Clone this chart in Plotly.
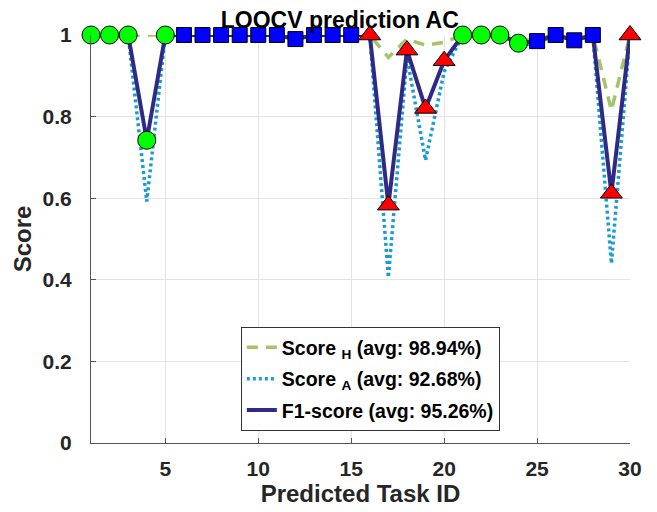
import plotly.graph_objects as go

task_ids = list(range(1, 31))
score_h = [1, 1, 1, 1, 1, 1, 1, 1, 1, 1, 1, 0.99, 1, 1, 1,
           1, 0.945, 0.99, 0.975, 0.982, 1, 1, 1, 0.985, 0.99, 1, 0.99, 1, 0.815, 1]
score_a = [1, 1, 1, 0.592, 1, 1, 1, 1, 1, 1, 1, 0.99, 1, 1, 1,
           1, 0.406, 0.945, 0.693, 0.91, 1, 1, 1, 0.975, 0.98, 1, 0.985, 1, 0.44, 1]
f1_score = [1, 1, 1, 0.742, 1, 1, 1, 1, 1, 1, 1, 0.99, 1, 1, 1,
            1, 0.583, 0.963, 0.82, 0.937, 1, 1, 1, 0.98, 0.985, 1, 0.987, 1, 0.612, 1]
circle_ids = [1, 2, 3, 4, 5, 21, 22, 23, 24]
square_ids = [6, 7, 8, 9, 10, 11, 12, 13, 14, 15, 25, 26, 27, 28]
triangle_ids = [16, 17, 18, 19, 20, 29, 30]
legend_names = ["Score <sub>H</sub> (avg: 98.94%)",
                "Score <sub>A</sub> (avg: 92.68%)",
                "F1-score (avg: 95.26%)"]
y_ticks = [0, 0.2, 0.4, 0.6, 0.8, 1]
y_tick_labels = ["0", "0.2", "0.4", "0.6", "0.8", "1"]
x_ticks = [5, 10, 15, 20, 25, 30]

FONT = "Liberation Sans"
TXT = "#262626"

fig = go.Figure()
fig.add_trace(go.Scatter(x=task_ids, y=score_h, mode="lines", name=legend_names[0],
                         legendgroup="h",
                         line=dict(color="#A4C46C", width=3.5, dash="11px,8px"),
                         cliponaxis=False))
fig.add_trace(go.Scatter(x=task_ids, y=score_a, mode="lines", name=legend_names[1],
                         legendgroup="a",
                         line=dict(color="#1A9BD4", width=3.5, dash="3px,3px"),
                         cliponaxis=False))
fig.add_trace(go.Scatter(x=task_ids, y=f1_score, mode="lines", name=legend_names[2],
                         legendgroup="f",
                         line=dict(color="#2E2A86", width=4),
                         cliponaxis=False))


def pick(ids):
    return ids, [f1_score[task_ids.index(i)] for i in ids]


for ids, sym, col, size in [(circle_ids, "circle", "#00FF00", 18),
                            (square_ids, "square", "#0000FF", 15),
                            (triangle_ids, "triangle-up", "#FF0000", 19)]:
    xs, ys = pick(ids)
    fig.add_trace(go.Scatter(x=xs, y=ys, mode="markers", showlegend=False,
                             marker=dict(symbol=sym, color=col, size=size,
                                         line=dict(color="black", width=1)),
                             cliponaxis=False))

fig.update_layout(
    width=657, height=512,
    margin=dict(l=83, r=35, t=26.5, b=77, autoexpand=False),
    plot_bgcolor="white", paper_bgcolor="white",
    font=dict(family=FONT, color=TXT),
    title=dict(text="LOOCV prediction AC", x=0.505, xanchor="center",
               y=1 - 12 / 512, yanchor="middle",
               font=dict(family=FONT, size=23, color="black", weight="bold")),
    xaxis=dict(range=[1, 30], tickvals=x_ticks, ticks="inside", ticklen=5,
               tickcolor="#555", showline=True, linecolor="#555", linewidth=1,
               showgrid=True, gridcolor="#E3E3E3", gridwidth=1, zeroline=False,
               ticklabelstandoff=7,
               tickfont=dict(family=FONT, size=21, color=TXT, weight="bold"),
               title=dict(text="Predicted Task ID", standoff=0,
                          font=dict(family=FONT, size=24, color=TXT, weight="bold"))),
    yaxis=dict(range=[0, 1], tickvals=y_ticks, ticktext=y_tick_labels,
               ticks="inside", ticklen=5, tickcolor="#555", showline=True,
               linecolor="#555", linewidth=1, showgrid=True, gridcolor="#E3E3E3",
               gridwidth=1, zeroline=False, ticklabelstandoff=14,
               tickfont=dict(family=FONT, size=21, color=TXT, weight="bold"),
               title=dict(text="Score", standoff=4,
                          font=dict(family=FONT, size=24, color=TXT, weight="bold"))),
    legend=dict(x=0.278, y=0.284, xanchor="left", yanchor="top",
                bgcolor="white", bordercolor="#333", borderwidth=1,
                font=dict(family=FONT, size=19.5, color="black", weight="bold"),
                itemwidth=30, tracegroupgap=3),
    showlegend=True,
)

fig.write_html("out.html")
